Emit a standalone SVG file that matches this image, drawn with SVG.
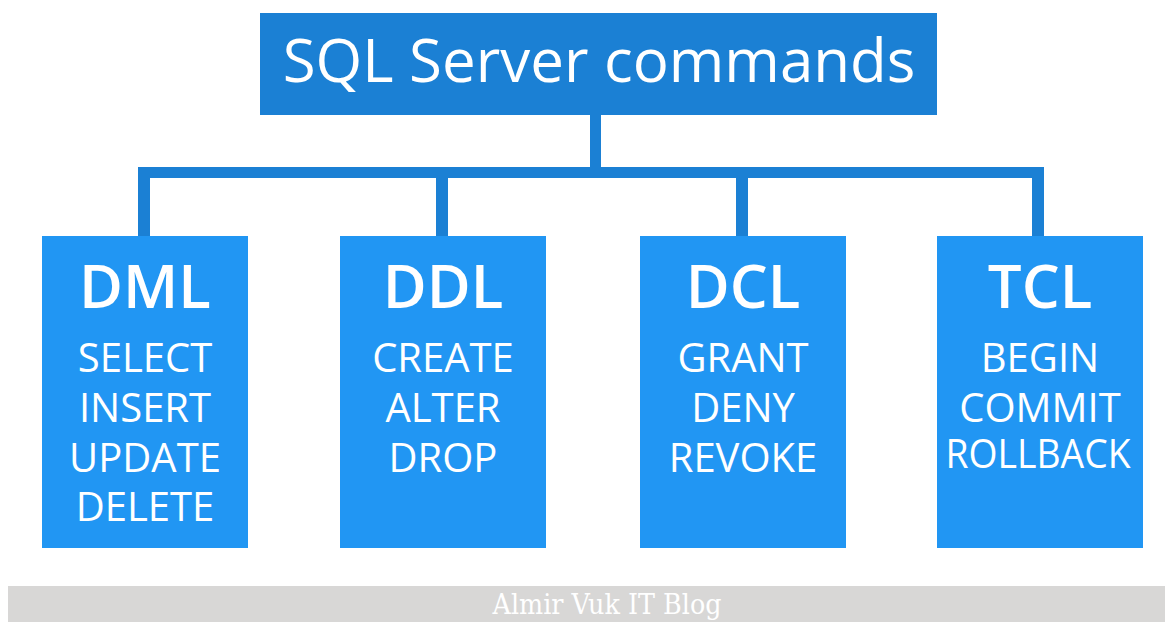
<svg xmlns="http://www.w3.org/2000/svg" width="1165" height="622" viewBox="0 0 1165 622">
<style>
.top{fill:#1b80d4}
.box{fill:#2196f3}
.conn{fill:#1b80d4}
.t{font-family:"Open Sans","Liberation Sans",sans-serif;fill:#fff;text-anchor:middle}
.title{font-size:60px}
.head{font-size:60px;font-weight:600}
.item{font-size:40px}
.foot{font-family:"DejaVu Serif Condensed","Liberation Serif",serif;font-size:28px;fill:#fff;text-anchor:middle}
</style>
<rect width="1165" height="622" fill="#fff"/>
<g id="connectors">
<rect class="conn" x="590" y="114" width="11" height="59"/>
<rect class="conn" x="138" y="167" width="906" height="11"/>
<rect class="conn" x="138" y="167" width="12" height="70"/>
<rect class="conn" x="436" y="167" width="12" height="70"/>
<rect class="conn" x="736" y="167" width="12" height="70"/>
<rect class="conn" x="1032" y="167" width="12" height="70"/>
</g>
<g id="root">
<rect class="top" x="260" y="13" width="677" height="102"/>
<text class="t title" x="599" y="82">SQL Server commands</text>
</g>
<g id="dml">
<rect class="box" x="42" y="236" width="206" height="312"/>
<text class="t head" x="145" y="308">DML</text>
<text class="t item" x="145" y="372">SELECT</text>
<text class="t item" x="145" y="422">INSERT</text>
<text class="t item" x="145" y="472">UPDATE</text>
<text class="t item" x="145" y="521">DELETE</text>
</g>
<g id="ddl">
<rect class="box" x="340" y="236" width="206" height="312"/>
<text class="t head" x="443" y="308">DDL</text>
<text class="t item" x="443" y="372">CREATE</text>
<text class="t item" x="443" y="422">ALTER</text>
<text class="t item" x="443" y="472">DROP</text>
</g>
<g id="dcl">
<rect class="box" x="640" y="236" width="206" height="312"/>
<text class="t head" x="743" y="308">DCL</text>
<text class="t item" x="743" y="372">GRANT</text>
<text class="t item" x="743" y="422">DENY</text>
<text class="t item" x="743" y="472">REVOKE</text>
</g>
<g id="tcl">
<rect class="box" x="937" y="236" width="206" height="312"/>
<text class="t head" x="1040" y="308">TCL</text>
<text class="t item" x="1040" y="372">BEGIN</text>
<text class="t item" x="1040" y="422">COMMIT</text>
<text class="t item" x="1038" y="468" textLength="185" lengthAdjust="spacingAndGlyphs">ROLLBACK</text>
</g>
<g id="footer">
<rect x="8" y="586" width="1157" height="36" fill="#d8d7d6"/>
<text class="foot" x="607" y="614" textLength="229" lengthAdjust="spacingAndGlyphs">Almir Vuk IT Blog</text>
</g>
</svg>
